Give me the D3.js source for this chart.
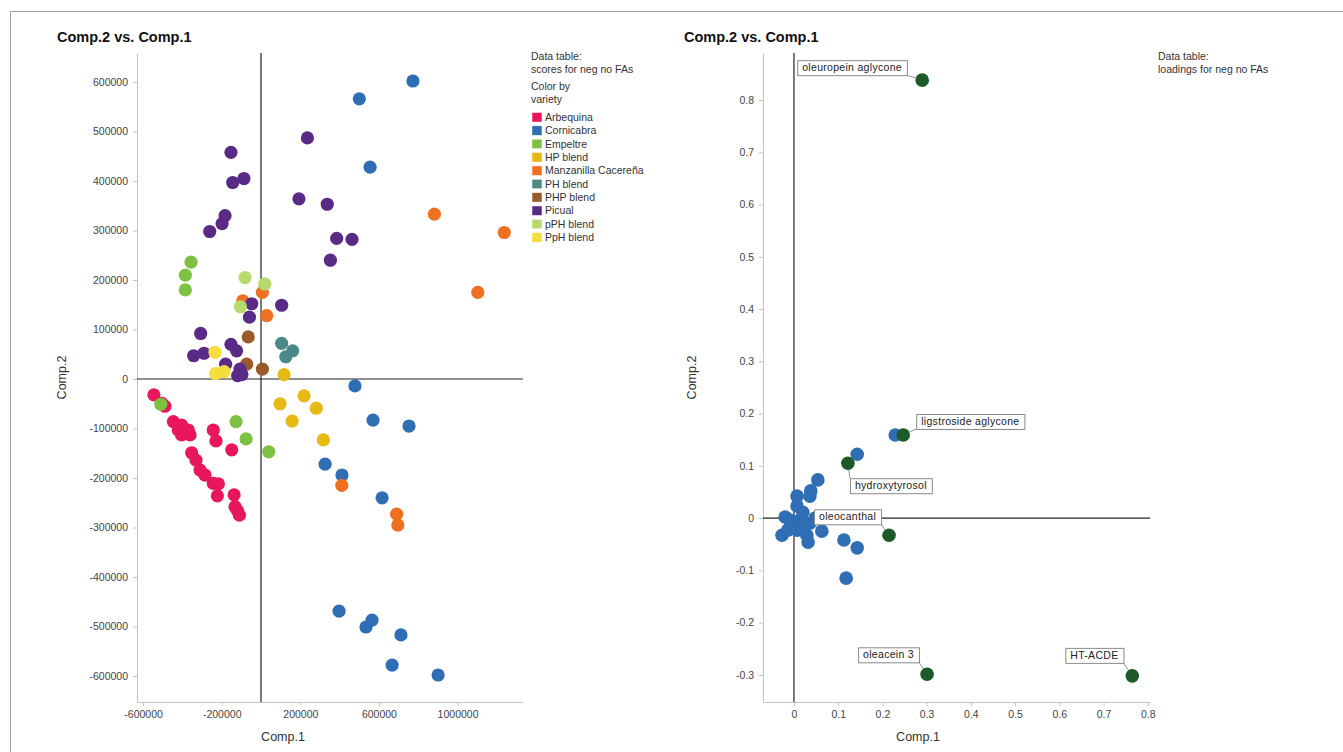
<!DOCTYPE html>
<html lang="en">
<head>
  <meta charset="UTF-8">
  <title>Comp.2 vs. Comp.1</title>
  <script src="https://d3js.org/d3.v7.min.js"></script>
  <style>
    body { margin: 0; background: #fff; }
    svg { display: block; font-family: "Liberation Sans", Arial, sans-serif; }
    .axis path, .axis line { stroke: #c4c4c4; }
    .axis text { fill: #444; font-size: 10.5px; }
  </style>
</head>
<body>
  <svg id="chart" width="1343" height="752"></svg>
  <script>
    // ---- scores plot data (Comp.1, Comp.2) per variety ----
    const varieties = ["Arbequina", "Cornicabra", "Empeltre", "HP blend", "Manzanilla Cacereña",
                       "PH blend", "PHP blend", "Picual", "pPH blend", "PpH blend"];
    const varietyColors = ["#e8175d", "#2f6db5", "#7cc142", "#e6b914", "#f07022",
                           "#4b8887", "#9a5b2b", "#5a2a87", "#b6db6c", "#f6dc3c"];

    const arbequinaScores = [[-545000, -32000], [-505000, -49000], [-489000, -55000], [-446000, -86000],
      [-404000, -93000], [-421000, -103000], [-370000, -103000], [-404000, -113000], [-361000, -113000],
      [-243000, -103000], [-229000, -125000], [-149000, -143000], [-353000, -149000], [-331000, -164000],
      [-310000, -184000], [-285000, -194000], [-243000, -211000], [-217000, -212000], [-222000, -236000],
      [-137000, -234000], [-132000, -258000], [-120000, -266000], [-110000, -275000]];
    const cornicabraScores = [[773000, 602000], [500000, 566000], [555000, 428000], [478000, -14000],
      [570000, -83000], [753000, -95000], [326000, -172000], [412000, -194000], [616000, -240000],
      [397000, -469000], [565000, -487000], [534000, -501000], [712000, -517000], [667000, -578000],
      [901000, -598000]];
    const empeltreScores = [[-356000, 236000], [-385000, 210000], [-385000, 180000], [-510000, -51000],
      [-127000, -86000], [-76000, -121000], [39000, -147000]];
    const hpBlendScores = [[117000, 9000], [219000, -34000], [97000, -50000], [281000, -59000],
      [158000, -85000], [317000, -123000]];
    const manzanillaScores = [[882000, 333000], [1238000, 296000], [1103000, 175000], [7000, 175000],
      [-93000, 158000], [29000, 128000], [411000, -215000], [690000, -273000], [696000, -295000]];
    const phBlendScores = [[105000, 72000], [161000, 57000], [126000, 45000]];
    const phpBlendScores = [[-65000, 85000], [-73000, 30000], [7000, 20000]];
    const picualScores = [[236000, 487000], [-153000, 458000], [-144000, 397000], [-87000, 405000],
      [193000, 364000], [337000, 353000], [-183000, 330000], [-198000, 314000], [-261000, 298000],
      [385000, 284000], [463000, 282000], [353000, 240000], [-47000, 152000], [105000, 149000],
      [-59000, 125000], [-307000, 92000], [-343000, 47000], [-290000, 52000], [-153000, 70000],
      [-124000, 57000], [-180000, 30000], [-107000, 20000], [-119000, 7000], [-97000, 9000]];
    const pphBlendScores = [[-81000, 205000], [19000, 192000], [-105000, 146000]];
    const ppHBlendScores = [[-234000, 54000], [-231000, 11000], [-188000, 15000]];
    const scoresByVariety = [arbequinaScores, cornicabraScores, empeltreScores, hpBlendScores,
      manzanillaScores, phBlendScores, phpBlendScores, picualScores, pphBlendScores, ppHBlendScores];

    const scoreXTicks = [-600000, -200000, 200000, 600000, 1000000];
    const scoreYTicks = d3.range(-600000, 600001, 100000);

    // ---- loadings plot data ----
    const loadingX = [0.229, 0.143, 0.054, 0.038, 0.036, 0.007, 0.007, 0.020, -0.020, -0.005, 0.036,
      -0.027, 0.007, 0.029, 0.032, 0.063, 0.113, 0.143, 0.118, -0.009, 0.014, -0.014, 0.020, 0.048];
    const loadingY = [0.159, 0.122, 0.073, 0.052, 0.042, 0.042, 0.023, 0.011, 0.002, -0.010, -0.010,
      -0.033, -0.023, -0.033, -0.046, -0.025, -0.042, -0.057, -0.115, -0.004, -0.004, -0.023, -0.017, 0.0];
    const compoundNames = ["oleuropein aglycone", "ligstroside aglycone", "hydroxytyrosol",
      "oleocanthal", "oleacein 3", "HT-ACDE"];
    const compoundX = [0.290, 0.247, 0.122, 0.215, 0.301, 0.765];
    const compoundY = [0.838, 0.159, 0.105, -0.033, -0.299, -0.302];

    const loadXTicks = d3.range(0, 0.81, 0.1);
    const loadYTicks = d3.range(-0.3, 0.81, 0.1);

    // label box offsets from the dot (px)
    const labelOffsets = [[-125, -20], [13, -21], [2, 15], [-75, -26], [-69, -27], [-67, -28]];

    const svg = d3.select("#chart");

    // plain hyphen minus, like the original software
    const intFmt = d => String(Math.round(d));
    const decFmt = d => String(+d.toFixed(1));

    // outer frame
    svg.append("rect").attr("x", 10.5).attr("y", 11.5).attr("width", 1345).attr("height", 760)
      .attr("fill", "none").attr("stroke", "#a0a0a0");

    function drawFrame(x, y, xTicks, yTicks, xFmt, yFmt, title, titleX, yLabelX, xLabelX) {
      const [x0, x1] = x.range();
      const [y1, y0] = y.range();
      svg.append("text").attr("x", titleX).attr("y", 42)
        .attr("font-size", "14.5px").attr("font-weight", "bold").attr("fill", "#111").text(title);

      svg.append("g").attr("class", "axis").attr("transform", `translate(0,${y1})`)
        .call(d3.axisBottom(x).tickValues(xTicks).tickFormat(xFmt).tickSize(4).tickSizeOuter(0).tickPadding(5));
      svg.append("g").attr("class", "axis").attr("transform", `translate(${x0},0)`)
        .call(d3.axisLeft(y).tickValues(yTicks).tickFormat(yFmt).tickSize(4).tickSizeOuter(0).tickPadding(5));

      // zero lines
      svg.append("line").attr("x1", x(0)).attr("x2", x(0)).attr("y1", y0).attr("y2", y1)
        .attr("stroke", "#222").attr("stroke-width", 1.2);
      svg.append("line").attr("x1", x0).attr("x2", x1).attr("y1", y(0)).attr("y2", y(0))
        .attr("stroke", "#222").attr("stroke-width", 1.2);

      svg.append("text").attr("x", xLabelX).attr("y", 741).attr("text-anchor", "middle")
        .attr("font-size", "12.5px").attr("fill", "#333").text("Comp.1");
      svg.append("text").attr("transform", `translate(${yLabelX},${(y0 + y1) / 2}) rotate(-90)`)
        .attr("text-anchor", "middle").attr("font-size", "12.5px").attr("fill", "#333").text("Comp.2");
    }

    // ---- left: scores ----
    const xs = d3.scaleLinear().domain([-631000, 1333000]).range([137, 523]);
    const ys = d3.scaleLinear().domain([-652500, 658600]).range([702, 53]);
    drawFrame(xs, ys, scoreXTicks, scoreYTicks, intFmt, intFmt, "Comp.2 vs. Comp.1", 57, 66, 283);

    scoresByVariety.forEach((pts, i) => {
      svg.append("g").selectAll("circle").data(pts).join("circle")
        .attr("cx", d => xs(d[0])).attr("cy", d => ys(d[1])).attr("r", 6.6)
        .attr("fill", varietyColors[i]);
    });

    // legend
    const legendX = 532;
    [["Data table:", 60], ["scores for neg no FAs", 73], ["Color by", 90], ["variety", 103]].forEach(([t, yy]) => {
      svg.append("text").attr("x", legendX - 1).attr("y", yy).attr("font-size", "10.5px")
        .attr("fill", "#333").text(t);
    });
    const legend = svg.append("g").selectAll("g").data(varieties).join("g")
      .attr("transform", (d, i) => `translate(${legendX},${112.5 + i * 13.35})`);
    legend.append("rect").attr("width", 10).attr("height", 9.5)
      .attr("fill", (d, i) => varietyColors[i]).attr("stroke", "#fff").attr("stroke-width", 0.5);
    legend.append("text").attr("x", 13).attr("y", 8.5).attr("font-size", "10.5px")
      .attr("fill", "#333").text(d => d);

    // ---- right: loadings ----
    const xl = d3.scaleLinear().domain([-0.070, 0.805]).range([763, 1150]);
    const yl = d3.scaleLinear().domain([-0.352, 0.89]).range([702, 53]);
    drawFrame(xl, yl, loadXTicks, loadYTicks, decFmt, decFmt, "Comp.2 vs. Comp.1", 684, 696, 918);

    svg.append("text").attr("x", 1158).attr("y", 60).attr("font-size", "10.5px").attr("fill", "#333").text("Data table:");
    svg.append("text").attr("x", 1158).attr("y", 73).attr("font-size", "10.5px").attr("fill", "#333").text("loadings for neg no FAs");

    svg.append("g").selectAll("circle").data(loadingX).join("circle")
      .attr("cx", d => xl(d)).attr("cy", (d, i) => yl(loadingY[i])).attr("r", 6.8)
      .attr("fill", "#2f6db5");

    // labels with leader lines
    const labels = svg.append("g");
    compoundNames.forEach((name, i) => {
      const px = xl(compoundX[i]), py = yl(compoundY[i]);
      const bx = px + labelOffsets[i][0], by = py + labelOffsets[i][1];
      const t = labels.append("text").attr("x", bx + 5).attr("y", by + 11)
        .attr("font-size", "10.5px").attr("fill", "#222").attr("letter-spacing", "0.3px").text(name);
      const w = t.node().getComputedTextLength() + 10, h = 15;
      const lx = Math.max(bx, Math.min(px, bx + w)), ly = Math.max(by, Math.min(py, by + h));
      labels.insert("line", "text").attr("x1", lx).attr("y1", ly).attr("x2", px).attr("y2", py)
        .attr("stroke", "#777").attr("stroke-width", 0.8);
      labels.insert("rect", "text").attr("x", bx + 0.5).attr("y", by + 0.5).attr("width", w).attr("height", h)
        .attr("fill", "#fff").attr("stroke", "#8a8a8a");
    });

    svg.append("g").selectAll("circle").data(compoundX).join("circle")
      .attr("cx", d => xl(d)).attr("cy", (d, i) => yl(compoundY[i])).attr("r", 6.8)
      .attr("fill", "#1d5a2a");
  </script>
</body>
</html>
